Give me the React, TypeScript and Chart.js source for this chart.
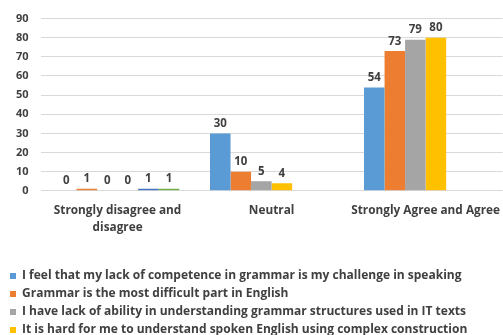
import React, { useEffect, useRef } from "react";
import { Chart, registerables } from "chart.js";

Chart.register(...registerables);

const categories: (string | string[])[] = [
  ["Strongly disagree and", "disagree"],
  "Neutral",
  "Strongly Agree and Agree",
];

const seriesNames = [
  "I feel that my lack of competence in grammar is my challenge in speaking",
  "Grammar is the most difficult part in English",
  "I have lack of ability in understanding grammar structures used in IT texts",
  "It is hard for me to understand spoken English using complex construction",
  "Series 5",
  "Series 6",
];

const s1 = [0, 30, 54];
const s2 = [1, 10, 73];
const s3 = [0, 5, 79];
const s4 = [0, 4, 80];
const s5 = [1, null, null];
const s6 = [1, null, null];

const colors = ["#5B9BD5", "#ED7D31", "#A5A5A5", "#FFC000", "#4472C4", "#70AD47"];

const FONT = "'Open Sans', 'Noto Sans', sans-serif";
const TEXT = "#404040";

const labelPlugin = {
  id: "barValueLabels",
  afterDatasetsDraw(chart: any) {
    const ctx = chart.ctx;
    ctx.save();
    ctx.font = `bold 11.5px ${FONT}`;
    ctx.fillStyle = TEXT;
    ctx.textAlign = "center";
    ctx.textBaseline = "bottom";
    chart.data.datasets.forEach((ds: any, i: number) => {
      const meta = chart.getDatasetMeta(i);
      meta.data.forEach((el: any, j: number) => {
        const v = ds.data[j];
        if (v === null || v === undefined) return;
        ctx.fillText(String(v), el.x, el.y - 4);
      });
    });
    ctx.restore();
  },
};

export default function App() {
  const ref = useRef<HTMLCanvasElement>(null);
  useEffect(() => {
    document.body.style.margin = "0";
    const all = [s1, s2, s3, s4, s5, s6];
    const chart = new Chart(ref.current!, {
      type: "bar",
      data: {
        labels: categories,
        datasets: all.map((d, i) => ({
          label: seriesNames[i],
          data: d,
          backgroundColor: colors[i],
          categoryPercentage: 0.8,
          barPercentage: 1.0,
        })),
      },
      options: {
        animation: false,
        responsive: false,
        maintainAspectRatio: false,
        layout: { padding: { top: 13, right: 0, left: 4, bottom: 0 } },
        plugins: {
          tooltip: { enabled: false },
          legend: {
            position: "bottom",
            align: "start",
            labels: {
              boxWidth: 6,
              boxHeight: 6,
              padding: 6,
              color: TEXT,
              font: { family: FONT, size: 12, weight: "bold" },
              filter: (item: any) => item.datasetIndex < 4,
            },
          },
        },
        scales: {
          x: {
            grid: { display: false },
            border: { display: false },
            afterFit: (scale: any) => {
              scale.height += 25;
            },
            ticks: {
              color: TEXT,
              padding: 3,
              font: { family: FONT, size: 11.8, weight: "bold", lineHeight: 1.45 },
              maxRotation: 0,
              autoSkip: false,
            },
          },
          y: {
            min: 0,
            max: 90,
            ticks: {
              stepSize: 10,
              color: TEXT,
              padding: 12,
              font: { family: FONT, size: 11, weight: "bold" },
            },
            grid: { color: "#D9D9D9", drawTicks: false },
            border: { display: false },
          },
        },
      },
      plugins: [labelPlugin],
    });
    return () => chart.destroy();
  }, []);
  return (
    <div style={{ width: 503, height: 346 }}>
      <canvas ref={ref} width={503} height={346} style={{ display: "block" }} />
    </div>
  );
}
